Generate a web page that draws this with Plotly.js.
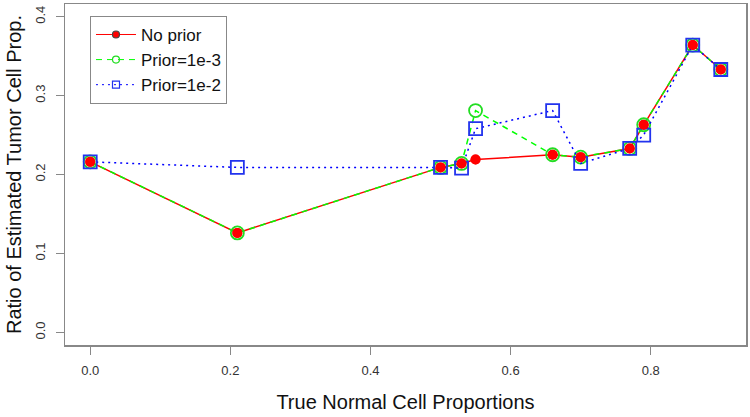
<!DOCTYPE html>
<html>
<head>
<meta charset="utf-8">
<script src="https://cdn.plot.ly/plotly-3.0.1.min.js"></script>
<style>html,body{margin:0;padding:0;background:#fff;}#chart{width:750px;height:417px;}</style>
</head>
<body>
<div id="chart"></div>
<script>
var normalProp = [0.0, 0.21, 0.50, 0.53, 0.55, 0.66, 0.70, 0.77, 0.79, 0.86, 0.90];
var noPrior    = [0.216, 0.126, 0.209, 0.214, 0.219, 0.225, 0.222, 0.233, 0.263, 0.364, 0.333];
var prior1e3   = [0.216, 0.126, 0.209, 0.214, 0.281, 0.225, 0.222, 0.233, 0.263, 0.364, 0.333];
var prior1e2   = [0.216, 0.209, 0.209, 0.208, 0.258, 0.281, 0.214, 0.233, 0.250, 0.364, 0.333];
var seriesNames = ["No prior", "Prior=1e-3", "Prior=1e-2"];
var xTicks = [0.0, 0.2, 0.4, 0.6, 0.8];
var yTicks = [0.0, 0.1, 0.2, 0.3, 0.4];

var FONT = "Liberation Sans, Arial, Helvetica, sans-serif";

var styles = [
  {line: {color: "#ff0000", width: 1.5}, sym: "circle", col: "#ff0000", lw: 0},
  {line: {color: "#00ff00", width: 1.5, dash: "6px,5px"}, sym: "circle-open", col: "#22dd22", lw: 1.8},
  {line: {color: "#0000ff", width: 1.5, dash: "2px,4px"}, sym: "square-open", col: "#2233ee", lw: 1.8}
];
var series = [noPrior, prior1e3, prior1e2];
var sizes = [10, 13, 13];

var traces = [];
// data traces
for (var i = 0; i < 3; i++) {
  traces.push({x: normalProp, y: series[i], name: seriesNames[i], type: "scatter", mode: "lines+markers",
    showlegend: false, line: styles[i].line,
    marker: {symbol: styles[i].sym, size: sizes[i], color: styles[i].col, line: {width: styles[i].lw}}});
}
// red points drawn on top
traces.push({x: normalProp, y: noPrior, name: seriesNames[0], type: "scatter", mode: "markers",
  showlegend: false, marker: {symbol: "circle", size: 10, color: "#ff0000"}});
// legend entries (small symbols, as in the reference legend)
for (var j = 0; j < 3; j++) {
  traces.push({x: [null], y: [null], name: seriesNames[j], type: "scatter", mode: "lines+markers",
    showlegend: true,
    line: {color: styles[j].line.color, width: 1, dash: styles[j].line.dash || "solid"},
    marker: {symbol: styles[j].sym, size: 7, color: styles[j].col, line: {width: 1.2}}});
}

var layout = {
  width: 750, height: 417,
  margin: {l: 65, r: 4, t: 4, b: 72},
  paper_bgcolor: "#ffffff", plot_bgcolor: "#ffffff",
  font: {family: FONT, color: "#000000"},
  showlegend: true,
  legend: {
    x: 0.0367, y: 0.965, xanchor: "left", yanchor: "top",
    bordercolor: "#888888", borderwidth: 1, bgcolor: "#ffffff",
    itemwidth: 40,
    font: {family: FONT, size: 17, color: "#111111"}
  },
  xaxis: {
    range: [-0.036, 0.936],
    tickvals: xTicks, tickformat: ".1f",
    ticks: "outside", ticklen: 8, tickcolor: "#888888", tickwidth: 1,
    ticklabelstandoff: 5,
    showgrid: false, zeroline: false,
    showline: true, linecolor: "#888888", linewidth: 1.5, mirror: true,
    tickfont: {family: FONT, size: 13, color: "#333333"},
    title: {text: "True Normal Cell Proportions", font: {family: FONT, size: 20, color: "#111111"}, standoff: 18}
  },
  yaxis: {
    range: [-0.016, 0.416],
    tickvals: yTicks, tickformat: ".1f", tickangle: -90,
    ticks: "outside", ticklen: 8, tickcolor: "#888888", tickwidth: 1,
    ticklabelstandoff: 5,
    showgrid: false, zeroline: false,
    showline: true, linecolor: "#888888", linewidth: 1.5, mirror: true,
    tickfont: {family: FONT, size: 13, color: "#333333"},
    title: {text: "Ratio of Estimated Tumor Cell Prop.", font: {family: FONT, size: 20, color: "#111111"}, standoff: 6}
  }
};

Plotly.newPlot("chart", traces, layout, {displayModeBar: false, staticPlot: true});
</script>
</body>
</html>
